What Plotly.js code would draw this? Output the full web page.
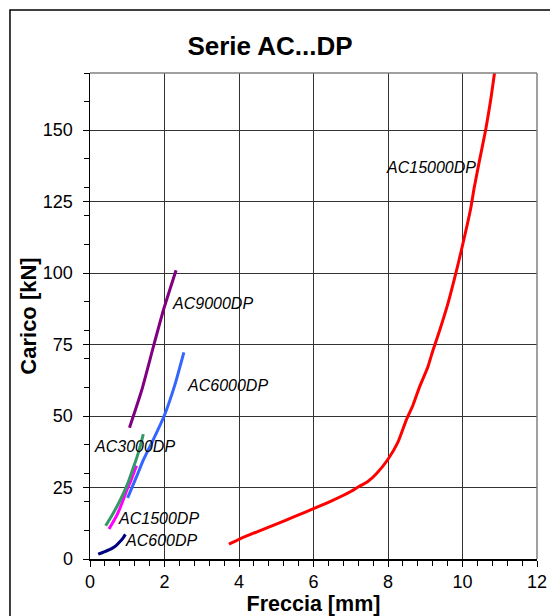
<!DOCTYPE html>
<html><head><meta charset="utf-8">
<script src="https://cdn.plot.ly/plotly-3.0.1.min.js"></script>
<style>html,body{margin:0;padding:0;background:#fff}#chart{width:550px;height:616px}</style>
</head><body><div id="chart"></div>
<script>
// Series data (Freccia [mm] vs Carico [kN])
const ac600_x  = [0.22, 0.40, 0.60, 0.70, 0.80, 0.90, 0.95];
const ac600_y  = [1.7, 2.6, 3.8, 4.7, 6.0, 7.6, 8.6];
const ac1500_x = [0.51, 0.60, 0.70, 0.78, 0.90, 1.00, 1.10, 1.20, 1.25];
const ac1500_y = [10.5, 12.5, 14.8, 17.0, 21.0, 24.5, 27.5, 31.0, 32.6];
const ac3000_x = [0.42, 0.60, 0.72, 0.90, 1.03, 1.15, 1.25, 1.35, 1.43];
const ac3000_y = [11.6, 15.5, 18.3, 23.0, 27.0, 31.5, 35.2, 39.5, 43.7];
const ac6000_x = [1.01, 1.25, 1.43, 1.65, 1.99, 2.28, 2.52];
const ac6000_y = [21.4, 28.8, 34.6, 40.4, 50.0, 61.0, 72.3];
const ac9000_x = [1.06, 1.39, 1.70, 1.97, 2.31];
const ac9000_y = [45.9, 59.1, 74.2, 87.0, 101.0];
const ac15000_x = [3.73, 4.0, 4.5, 5.0, 5.5, 6.0, 6.5, 7.0, 7.2, 7.45, 7.7, 8.0, 8.27, 8.49, 8.67, 8.85, 9.07, 9.21, 9.39, 9.61, 9.82, 9.97, 10.22, 10.31, 10.45, 10.62, 10.75, 10.87];
const ac15000_y = [5.2, 6.9, 9.6, 12.2, 14.9, 17.6, 20.4, 23.6, 25.2, 27.0, 30.0, 34.9, 41.0, 48.6, 53.8, 60.3, 67.2, 73.1, 80.1, 89.4, 99.9, 108.0, 122.6, 129.6, 139.0, 150.0, 160.0, 171.0];

const seriesNames = ["AC600DP", "AC1500DP", "AC3000DP", "AC6000DP", "AC9000DP", "AC15000DP"];
const seriesX = [ac600_x, ac1500_x, ac3000_x, ac6000_x, ac9000_x, ac15000_x];
const seriesY = [ac600_y, ac1500_y, ac3000_y, ac6000_y, ac9000_y, ac15000_y];
const colors = ["#000080", "#FF00FF", "#339966", "#3366FF", "#800080", "#FF0000"];

// Label anchor positions (data coords)
const labelX = [0.88, 0.69, 0.05, 2.54, 2.14, 7.89];
const labelY = [6.3, 14.3, 39.2, 60.8, 89.2, 137.1];

const xTickVals = [0, 2, 4, 6, 8, 10, 12];
const yTickVals = [0, 25, 50, 75, 100, 125, 150];

const FONT = "Arial, 'Liberation Sans', sans-serif";

const traces = seriesNames.map((n, i) => ({
  type: "scatter", mode: "lines", name: n,
  x: seriesX[i], y: seriesY[i],
  line: {color: colors[i], width: 3, shape: "spline", smoothing: 0.5},
  hoverinfo: "skip"
}));

const annotations = seriesNames.map((n, i) => ({
  x: labelX[i], y: labelY[i], xref: "x", yref: "y",
  text: n, showarrow: false, xanchor: "left", yanchor: "middle",
  font: {family: FONT, size: 16, color: "#000", style: "italic"}
}));

const layout = {
  width: 550, height: 616,
  margin: {l: 90, r: 13, t: 73, b: 57},
  paper_bgcolor: "#fff", plot_bgcolor: "#fff",
  showlegend: false,
  font: {family: FONT, color: "#000"},
  title: {text: "<b>Serie AC...DP</b>", font: {family: FONT, size: 26, color: "#000"},
          x: 0.491, xref: "container", y: 0.925, yref: "container", xanchor: "center", yanchor: "middle"},
  xaxis: {
    range: [0, 12], tickvals: xTickVals, ticktext: xTickVals.map(String),
    showgrid: true, gridcolor: "#333", gridwidth: 1, zeroline: false,
    showline: true, linecolor: "#000", linewidth: 1.5,
    ticks: "outside", ticklen: 6, tickcolor: "#000", tickwidth: 1,
    minor: {dtick: 0.4, tick0: 0, ticks: "outside", ticklen: 5, tickcolor: "#000", showgrid: false},
    tickfont: {family: FONT, size: 18, color: "#000"},
    title: {text: "<b>Freccia [mm]</b>", font: {family: FONT, size: 21.5, color: "#000"}, standoff: 3},
    automargin: false, fixedrange: true
  },
  yaxis: {
    range: [0, 170], tickvals: yTickVals, ticktext: yTickVals.map(String),
    showgrid: true, gridcolor: "#333", gridwidth: 1, zeroline: false,
    showline: true, linecolor: "#000", linewidth: 1.5,
    ticks: "outside", ticklen: 6, tickcolor: "#000", tickwidth: 1,
    minor: {dtick: 10, tick0: 0, ticks: "outside", ticklen: 5, tickcolor: "#000", showgrid: false},
    tickfont: {family: FONT, size: 18, color: "#000"},
    ticklabelstandoff: 6,
    title: {text: "<b>Carico [kN]</b>", font: {family: FONT, size: 22, color: "#000"}, standoff: 0},
    automargin: false, fixedrange: true
  },
  annotations: annotations,
  shapes: [
    {type: "line", xref: "paper", yref: "paper", x0: 0, x1: 1, y0: 1, y1: 1, line: {color: "#808080", width: 1.5}},
    {type: "line", xref: "paper", yref: "paper", x0: 1, x1: 1, y0: 0, y1: 1, line: {color: "#808080", width: 1.5}},
    {type: "rect", xref: "paper", yref: "paper", x0: -0.179, x1: 1.2, y0: -0.2, y1: 1.1296, line: {color: "#000", width: 1.5}, fillcolor: "rgba(0,0,0,0)"}
  ]
};

Plotly.newPlot("chart", traces, layout, {staticPlot: true, displayModeBar: false});
</script></body></html>
